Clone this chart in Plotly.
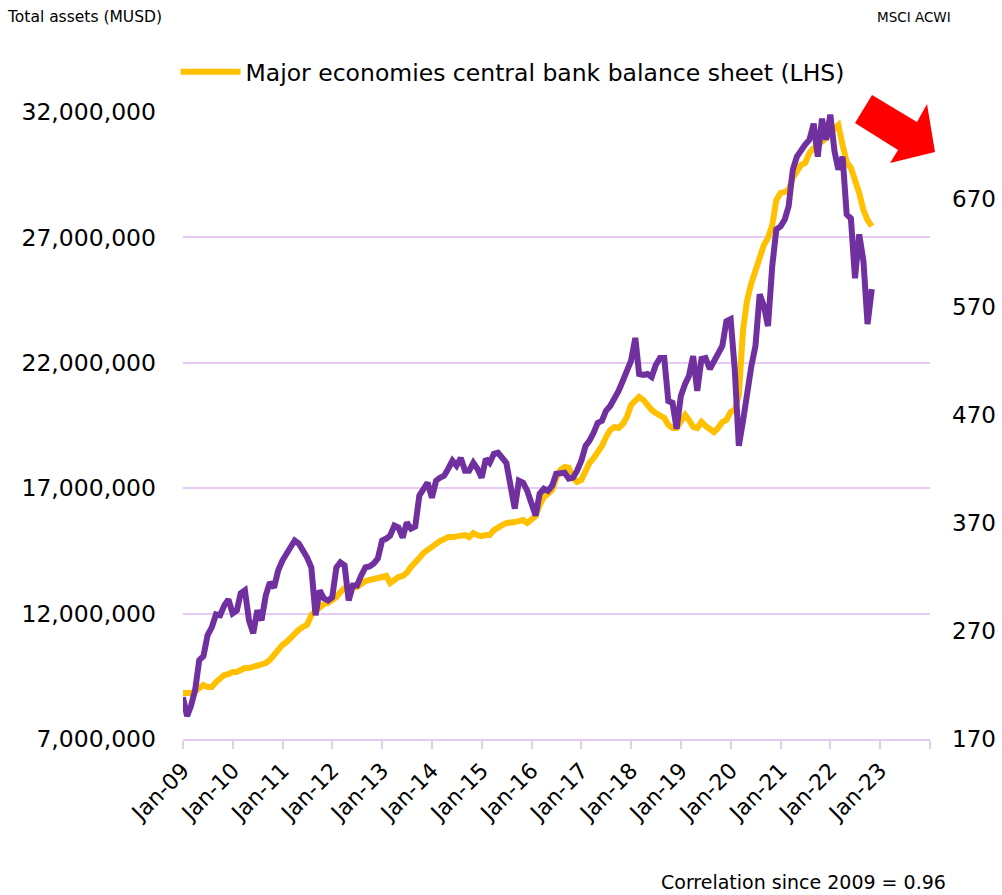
import pandas as pd
import plotly.graph_objects as go

# Central bank balance sheet, total assets (MUSD), month-end from Dec-08 to Oct-22
balance_sheet = [
    8830000, 8830000, 8830000, 8910000, 9030000, 9150000, 9070000, 9070000, 9270000, 9390000,
    9550000, 9590000, 9670000, 9670000, 9750000, 9830000, 9830000, 9870000, 9950000, 9950000,
    10030000, 10150000, 10350000, 10630000, 10750000, 10870000, 11030000, 11230000, 11350000, 11470000,
    11550000, 11940000, 12100000, 12260000, 12380000, 12420000, 12540000, 12660000, 12860000, 13020000,
    13060000, 13060000, 13060000, 13180000, 13300000, 13340000, 13380000, 13460000, 13460000, 13500000,
    13220000, 13340000, 13460000, 13500000, 13620000, 13860000, 14020000, 14220000, 14420000, 14540000,
    14660000, 14820000, 14890000, 14970000, 15050000, 15050000, 15090000, 15090000, 15130000, 15050000,
    15210000, 15130000, 15090000, 15130000, 15130000, 15330000, 15450000, 15530000, 15610000, 15610000,
    15650000, 15690000, 15730000, 15610000, 15730000, 15890000, 16330000, 16650000, 16770000, 16930000,
    17410000, 17730000, 17850000, 17810000, 17410000, 17250000, 17330000, 17730000, 18000000, 18200000,
    18440000, 18680000, 19040000, 19320000, 19440000, 19400000, 19560000, 19840000, 20320000, 20520000,
    20640000, 20520000, 20280000, 20120000, 20000000, 19920000, 19800000, 19520000, 19400000, 19400000,
    19720000, 19920000, 19720000, 19440000, 19400000, 19640000, 19480000, 19320000, 19240000, 19400000,
    19640000, 19720000, 20040000, 20120000, 20720000, 23310000, 24500000, 25180000, 25700000, 26300000,
    26700000, 26980000, 27490000, 28490000, 28770000, 28810000, 28890000, 29370000, 29680000, 29890000,
    29970000, 30370000, 30560000, 30680000, 30800000, 30960000, 31200000, 31360000, 31480000, 30680000,
    30010000, 29770000, 29290000, 28770000, 28090000, 27690000, 27450000,
]

# MSCI ACWI index level (RHS), same months
msci_acwi = [
    208.7, 191.2, 200.4, 215.2, 242.9, 246.6, 265.9, 273.3, 285.3, 284.4,
    293.6, 299.2, 286.2, 289.0, 304.7, 307.5, 279.8, 267.8, 289.0, 279.8,
    302.8, 314.8, 310.2, 325.9, 335.1, 342.5, 346.2, 353.6, 350.8, 344.4,
    337.9, 328.7, 284.4, 307.5, 300.1, 298.2, 301.0, 328.7, 333.3, 330.5,
    298.2, 312.1, 312.1, 321.3, 328.7, 329.6, 332.4, 337.0, 353.6, 355.4,
    358.2, 367.4, 365.6, 356.3, 370.2, 364.6, 366.5, 395.1, 401.5, 407.1,
    393.2, 408.9, 411.7, 413.5, 420.0, 427.4, 422.8, 430.1, 418.2, 418.2,
    425.5, 420.0, 411.7, 429.2, 425.5, 433.8, 434.8, 429.2, 425.5, 404.3,
    383.1, 408.9, 407.1, 399.7, 385.9, 376.6, 396.9, 401.5, 399.7, 404.3,
    415.4, 416.3, 416.3, 410.8, 411.7, 418.2, 427.4, 441.2, 445.8, 453.2,
    462.4, 464.3, 473.5, 478.1, 484.6, 492.0, 501.2, 512.3, 520.0, 541.0,
    507.6, 506.7, 507.6, 504.9, 515.9, 522.4, 522.4, 482.7, 480.9, 456.9,
    487.3, 498.4, 505.8, 524.2, 492.0, 521.5, 522.4, 512.3, 519.6, 524.2,
    533.5, 556.5, 558.4, 510.4, 441.2, 464.3, 492.0, 515.0, 533.5, 581.4,
    570.4, 551.9, 607.3, 641.4, 644.2, 650.6, 662.6, 696.8, 708.7, 715.2,
    719.8, 724.4, 739.2, 708.7, 743.8, 724.4, 747.5, 713.4, 696.8, 708.7,
    655.2, 651.5, 596.2, 636.8, 611.9, 553.8, 586.1,
]

year_ticks = list(range(2009, 2025))
year_labels = ["Jan-%02d" % (y % 100) for y in range(2009, 2024)] + [""]
left_ticks = [7000000, 12000000, 17000000, 22000000, 27000000, 32000000]
right_ticks = [170, 270, 370, 470, 570, 670]

dates = pd.date_range("2009-01-01", periods=len(balance_sheet), freq="MS") - pd.Timedelta(days=1)

GRID = "#E6CCF5"
FONT = "DejaVu Sans"

fig = go.Figure()
fig.add_trace(go.Scatter(
    x=dates, y=balance_sheet, mode="lines",
    name="Major economies central bank balance sheet (LHS)",
    line=dict(color="#FFC000", width=6), yaxis="y",
))
fig.add_trace(go.Scatter(
    x=dates, y=msci_acwi, mode="lines", name="MSCI ACWI",
    line=dict(color="#7030A0", width=6), yaxis="y2", showlegend=False,
))

fig.update_layout(
    width=1002, height=895, autosize=False,
    margin=dict(l=183, r=72, t=112, b=156),
    paper_bgcolor="white", plot_bgcolor="white",
    font=dict(family=FONT, color="black"),
    showlegend=True,
    legend=dict(orientation="h", x=-0.01, xanchor="left", y=1.064, yanchor="middle",
                font=dict(size=23.5, family=FONT), bgcolor="rgba(0,0,0,0)", itemwidth=60),
    xaxis=dict(
        type="date", range=["2009-01-01", "2024-01-01"], automargin=False,
        tickvals=["%d-01-01" % y for y in year_ticks], ticktext=year_labels,
        tickangle=-45, ticks="outside", ticklen=8, tickwidth=2, tickcolor=GRID,
        showline=True, linecolor=GRID, linewidth=2, showgrid=False, zeroline=False,
        tickfont=dict(size=22, family=FONT),
    ),
    yaxis=dict(
        range=[7000000, 32000000], tickvals=left_ticks, tickformat=",", automargin=False,
        showgrid=True, gridcolor=GRID, gridwidth=2, zeroline=False,
        ticks="", ticklabelstandoff=26, tickfont=dict(size=23.5, family=FONT),
    ),
    yaxis2=dict(
        overlaying="y", side="right", range=[170, 750], tickvals=right_ticks, automargin=False,
        showgrid=False, zeroline=False, ticks="", ticklabelstandoff=21,
        tickfont=dict(size=23, family=FONT),
    ),
)

fig.add_annotation(text="Total assets (MUSD)", xref="paper", yref="paper",
                   x=-0.2383, y=1.1515, xanchor="left", yanchor="middle",
                   showarrow=False, font=dict(size=15.5, family=FONT))
fig.add_annotation(text="MSCI ACWI", xref="paper", yref="paper",
                   x=1.0308, y=1.1515, xanchor="right", yanchor="middle",
                   showarrow=False, font=dict(size=13.5, family=FONT))
fig.add_annotation(text="Correlation since 2009 = 0.96", xref="paper", yref="paper",
                   x=1.0241, y=-0.2281, xanchor="right", yanchor="middle",
                   showarrow=False, font=dict(size=19, family=FONT))

# red down-trend arrow
fig.add_shape(type="path", xref="paper", yref="paper",
              path="M 0.9224 1.0271 L 0.9826 0.9841 L 0.9960 1.0128 L 1.0067 0.9362 "
                   "L 0.9465 0.9187 L 0.9572 0.9394 L 0.8996 0.9825 Z",
              fillcolor="#FF0000", line=dict(width=0), layer="above")

fig.write_html("out.html", config={"displayModeBar": False},
               post_script="document.body.style.margin='0';document.body.style.overflow='hidden';")
